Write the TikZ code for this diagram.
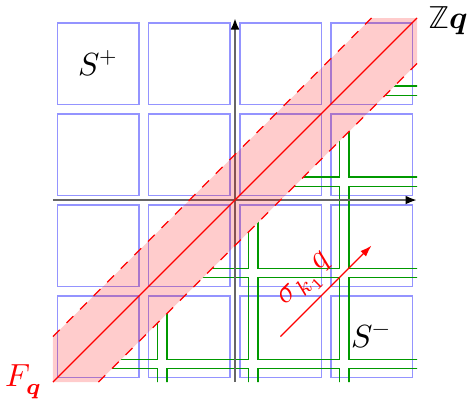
\documentclass[tikz,border=0pt]{standalone}
\usepackage{unicode-math}
\setmathfont{Latin Modern Math}
\usetikzlibrary{arrows.meta}
\tikzset{
  bluesq/.style={draw=blue!42, line width=0.6pt},
  greensq/.style={draw=green!60!black, line width=0.5pt},
  axisline/.style={draw=black!60, line width=0.8pt, -{Latex[length=3.6pt,width=2.8pt,black]}},
  bandfill/.style={fill=red, fill opacity=0.2},
  banddash/.style={draw=red, dashed, line width=0.4pt},
  redline/.style={draw=red, line width=0.4pt},
  redarrow/.style={draw=red, line width=0.4pt, -{Latex[length=3.6pt,width=2.4pt]}},
  lbl/.style={inner sep=3.33pt},
  siglbl/.style={inner sep=0pt, text=red, transform shape}
}
\begin{document}
\begin{tikzpicture}
\useasboundingbox (-2.582,-2.253) rectangle (2.571,2.198);
% coordinates
\coordinate (BL) at (-2,-2);
\coordinate (TR) at (2,2);
\coordinate (Lo1) at (-1.5,-2);
\coordinate (Lo2) at (2,1.5);
\coordinate (Up1) at (-2,-1.5);
\coordinate (Up2) at (1.5,2);
\coordinate (XL) at (-2,0);
\coordinate (XR) at (2,0);
\coordinate (YB) at (0,-2);
\coordinate (YT) at (0,2);
\coordinate (As) at (0.5,-1.5);
\coordinate (Ae) at (1.5,-0.5);
% blue squares
\foreach \i in {-2,-1,0,1}{
  \foreach \j in {-2,-1,0,1}{
    \draw[bluesq] (\i+0.05,\j+0.05) rectangle (\i+0.95,\j+0.95);
  }
}
% green squares, clipped below the band
\begin{scope}
  \clip (Lo1) -- (2,-2) -- (Lo2) -- cycle;
  \foreach \i in {-3,-2,-1,0,1}{
    \foreach \j in {-3,-2,-1,0,1}{
      \draw[greensq] (\i+0.25,\j+0.25) rectangle (\i+1.15,\j+1.15);
    }
  }
\end{scope}
% axes
\draw[axisline] (XL) -- (XR);
\draw[axisline] (YB) -- (YT);
% band
\path[bandfill] (BL) -- (Lo1) -- (Lo2) -- (TR) -- (Up2) -- (Up1) -- cycle;
\draw[banddash] (Lo1) -- (Lo2);
\draw[banddash] (Up1) -- (Up2);
\draw[redline] (BL) -- (TR);
% labels
\node[lbl, anchor=west] (Zq) at (2,1.97) {$\mathbb{Z}\symbfit{q}$};
\node[lbl, anchor=east, text=red] (Fq) at (BL) {$F_{\symbfit{q}}$};
\node (Splus) at (-1.5,1.5) {$S^{+}$};
\node (Sminus) at (1.5,-1.5) {$S^{-}$};
% sigma arrow
\draw[redarrow] (As) -- (Ae);
\begin{scope}[shift={(1,-1)}, rotate=45]
  \node[siglbl, anchor=base east] (sig) at (2.6pt,5.8pt) {$\sigma_{k_1}$};
  \node[siglbl, anchor=base west] (sigq) at ([xshift=0.3pt]sig.base east) {$q$};
\end{scope}
\end{tikzpicture}
\end{document}
